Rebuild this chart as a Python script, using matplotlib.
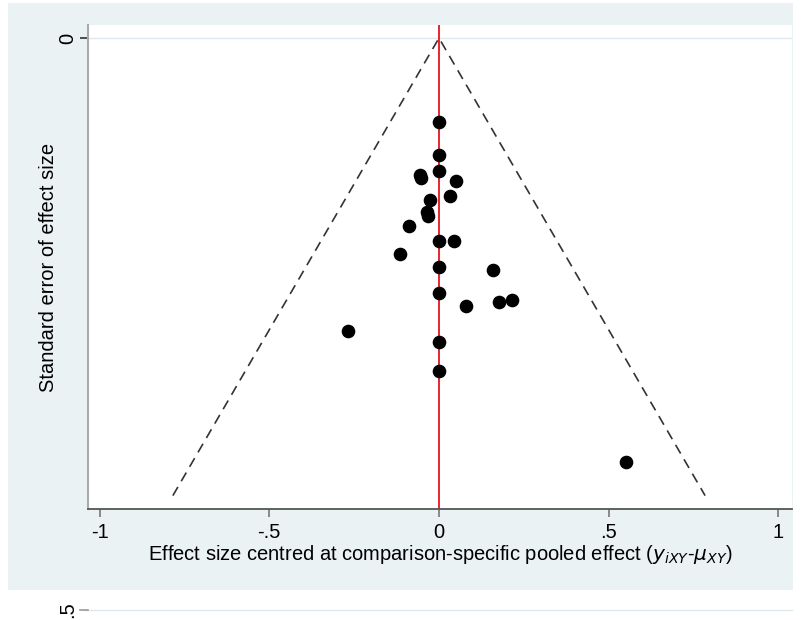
import numpy as np
import matplotlib.pyplot as plt
import matplotlib.patches as patches
import matplotlib.transforms as mtransforms

plt.rcParams['font.family'] = ['Liberation Sans', 'DejaVu Sans']

# centred effect sizes and their standard errors
effect = [0.0, 0.0, 0.0, -0.056, -0.053, 0.050, 0.032, -0.027, -0.035, -0.032,
          -0.088, 0.0, 0.044, -0.116, 0.0, 0.158, 0.0, 0.080, 0.176, 0.216,
          -0.269, 0.0, 0.0, 0.551]
se = [0.073, 0.102, 0.116, 0.120, 0.122, 0.125, 0.138, 0.142, 0.152, 0.156,
      0.164, 0.177, 0.177, 0.189, 0.200, 0.203, 0.223, 0.234, 0.231, 0.229,
      0.256, 0.266, 0.291, 0.371]
se_max = 0.40
xticks = [-1, -0.5, 0, 0.5, 1]
xticklabels = ['-1', '-.5', '0', '.5', '1']

W, H = 801, 620
fig = plt.figure(figsize=(W / 100, H / 100), dpi=100)
fig.patch.set_facecolor('white')

# outer stata-like background
bg = patches.Rectangle((8 / W, (H - 590) / H), 785 / W, 587 / H,
                       transform=fig.transFigure, facecolor='#eaf2f3',
                       edgecolor='none', zorder=-5)
fig.patches.append(bg)

ax = fig.add_axes([88 / W, (H - 509) / H, (792 - 88) / W, (509 - 25) / H])
ax.set_zorder(2)
ax.set_facecolor('white')

# funnel
ax.plot([-1.96 * se_max, 0, 1.96 * se_max], [se_max, 0, se_max],
        ls=(0, (6, 4)), color='#333333', lw=1.2, zorder=2)
ax.axvline(0, color='#e8141c', lw=1.3, zorder=2)
ax.plot(effect, se, 'o', color='black', markersize=8.8, zorder=3)

ax.set_xlim(-1.034, 1.040)
ax.set_ylim(0.4117, -0.0114)

fs = 14.5
ax.set_xticks(xticks)
ax.set_xticklabels(xticklabels, fontsize=fs)
ax.set_yticks([0])
ax.set_yticklabels(['0'], rotation=90, va='center', fontsize=fs)
ax.grid(axis='y', color='#dfe8ec', lw=1)
ax.grid(axis='x', visible=False)
ax.tick_params(axis='x', length=6, width=1.2, color='#777777', pad=4)
ax.tick_params(axis='y', length=6, width=1.2, color='#333333', pad=2)

for s in ['top', 'right']:
    ax.spines[s].set_visible(False)
ax.spines['left'].set_color('#aaaaaa')
ax.spines['left'].set_linewidth(1.5)
ax.spines['bottom'].set_color('#555555')
ax.spines['bottom'].set_linewidth(1.3)

# the .5 tick that lies below the plot region
tr = mtransforms.blended_transform_factory(ax.transAxes, ax.transData)
ax.plot([-0.004, 1], [0.5, 0.5], color='#dfe8ec', lw=1, transform=tr,
        clip_on=False)
ax.plot([-0.012, 0], [0.5, 0.5], color='#999999', lw=1.2, transform=tr,
        clip_on=False)
ax.text(-0.016, 0.5, '.5', rotation=90, ha='right', va='center', fontsize=fs,
        transform=tr, clip_on=False)

ax.set_xlabel('Effect size centred at comparison-specific pooled effect ($y_{iXY}$-$\\mu_{XY}$)',
              fontsize=fs, labelpad=1)
ax.set_ylabel('Standard error of effect size', fontsize=fs, labelpad=0)

fig.savefig('out.png', dpi=100)
